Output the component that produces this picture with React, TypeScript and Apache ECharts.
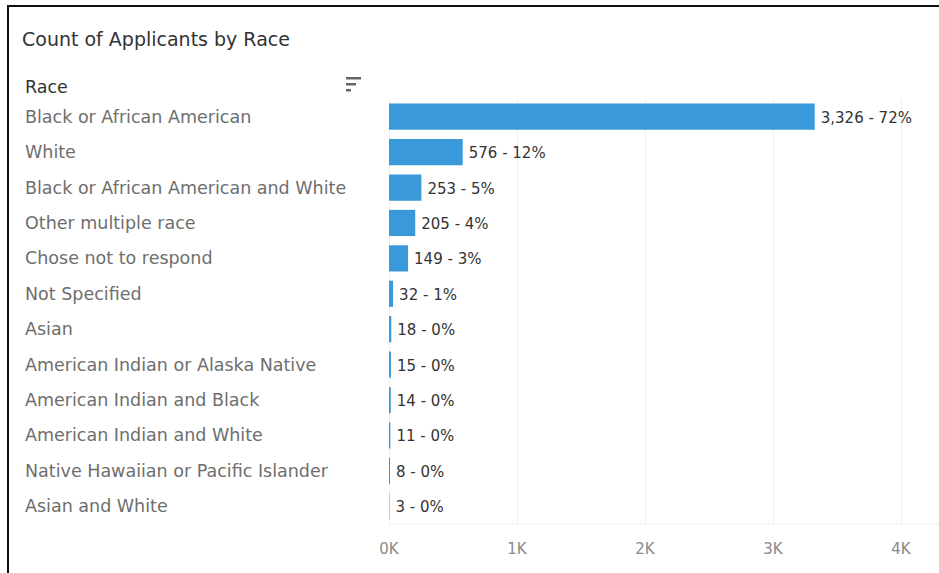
import React, { useEffect, useRef } from "react";
import * as echarts from "echarts";

const categories = [
  "Black or African American",
  "White",
  "Black or African American and White",
  "Other multiple race",
  "Chose not to respond",
  "Not Specified",
  "Asian",
  "American Indian or Alaska Native",
  "American Indian and Black",
  "American Indian and White",
  "Native Hawaiian or Pacific Islander",
  "Asian and White",
];
const counts = [3326, 576, 253, 205, 149, 32, 18, 15, 14, 11, 8, 3];
const xTicks = [0, 1000, 2000, 3000, 4000];

const FONT = "'DejaVu Sans', 'Noto Sans', sans-serif";

export default function App() {
  const ref = useRef<HTMLDivElement>(null);
  useEffect(() => {
    if (!ref.current) return;
    const chart = echarts.init(ref.current, null, { renderer: "svg" });
    const total = counts.reduce((a, b) => a + b, 0);
    chart.setOption({
      animation: false,
      backgroundColor: "#ffffff",
      grid: { left: 389, right: 38, top: 99, bottom: 49, containLabel: false },
      xAxis: {
        type: "value",
        min: 0,
        max: 4000,
        interval: 1000,
        axisLine: { show: false },
        axisTick: { show: false },
        splitLine: { show: true, lineStyle: { color: "#eeeeee", width: 1 } },
        axisLabel: {
          color: "#8a8a8a",
          fontSize: 15,
          fontFamily: FONT,
          margin: 17,
          formatter: (v: number) => (xTicks.includes(v) ? v / 1000 + "K" : ""),
        },
      },
      yAxis: {
        type: "category",
        data: categories,
        inverse: true,
        axisLine: { show: true, lineStyle: { color: "#f0f0f0" } },
        axisTick: { show: false },
        splitLine: { show: false },
        axisLabel: {
          color: "#6e6e6e",
          fontSize: 17.5,
          fontFamily: FONT,
          align: "left",
          margin: 364,
          padding: [2, 0, 0, 0],
        },
      },
      series: [
        {
          type: "bar",
          data: counts,
          barCategoryGap: "26%",
          itemStyle: { color: "#3a9ad9" },
          label: {
            show: true,
            position: "right",
            distance: 6,
            offset: [0, 1],
            color: "#333333",
            fontSize: 15,
            fontFamily: FONT,
            formatter: (p: any) =>
              p.value.toLocaleString("en-US") + " - " + Math.round((p.value / total) * 100) + "%",
          },
        },
      ],
      graphic: [
        {
          type: "rect",
          shape: { x: 8, y: 6, width: 1000, height: 700 },
          style: { fill: "none", stroke: "#111111", lineWidth: 2 },
        },
        {
          type: "line",
          shape: { x1: 389, y1: 524, x2: 939, y2: 524 },
          style: { stroke: "#eeeeee", lineWidth: 1 },
        },
        {
          type: "text",
          x: 22,
          y: 39,
          style: {
            text: "Count of Applicants by Race",
            fill: "#333333",
            fontSize: 19,
            fontFamily: FONT,
            verticalAlign: "middle",
          },
        },
        {
          type: "text",
          x: 25,
          y: 87,
          style: {
            text: "Race",
            fill: "#333333",
            fontSize: 17.5,
            fontFamily: FONT,
            verticalAlign: "middle",
          },
        },
        { type: "rect", shape: { x: 346, y: 77, width: 15, height: 2.5 }, style: { fill: "#666666" } },
        { type: "rect", shape: { x: 346, y: 83, width: 10, height: 2.5 }, style: { fill: "#666666" } },
        { type: "rect", shape: { x: 346, y: 89, width: 5, height: 2.5 }, style: { fill: "#666666" } },
      ],
    });
    return () => chart.dispose();
  }, []);
  return (
    <div
      ref={ref}
      style={{ position: "fixed", left: 0, top: 0, width: 939, height: 573 }}
    />
  );
}
